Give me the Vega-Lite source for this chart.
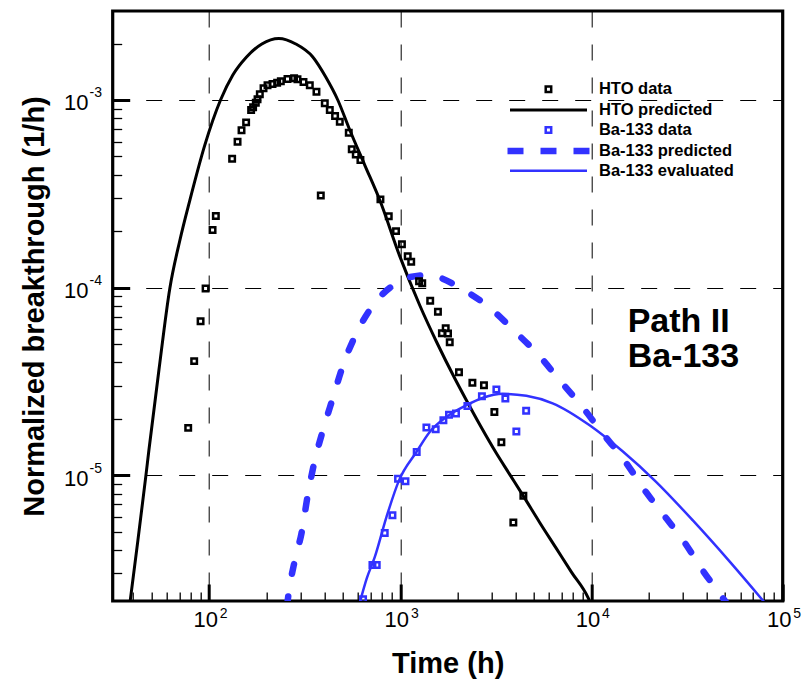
{
  "$schema": "https://vega.github.io/schema/vega-lite/v6.json",
  "width": 670,
  "height": 590,
  "autosize": {"type": "none"},
  "padding": {"left": 112.7, "top": 11, "right": 20.3, "bottom": 82},
  "background": "white",
  "config": {
    "view": {"stroke": "black", "strokeWidth": 3.2},
    "font": "Liberation Sans",
    "legend": {"orient": "none", "title": null, "padding": 0, "labelFont": "Liberation Sans", "labelFontSize": 16.5, "labelFontWeight": "bold", "labelColor": "black", "labelLimit": 300, "symbolOffset": 0}
  },
  "data": {"values": [
    {"series": "HTO data", "t": 77.7, "v": 1.79e-5},
    {"series": "HTO data", "t": 83.5, "v": 4.06e-5},
    {"series": "HTO data", "t": 90.2, "v": 6.63e-5},
    {"series": "HTO data", "t": 95.8, "v": 9.9e-5},
    {"series": "HTO data", "t": 104.2, "v": 2.03e-4},
    {"series": "HTO data", "t": 108.4, "v": 2.41e-4},
    {"series": "HTO data", "t": 131.9, "v": 4.86e-4},
    {"series": "HTO data", "t": 140.8, "v": 5.99e-4},
    {"series": "HTO data", "t": 147.7, "v": 6.89e-4},
    {"series": "HTO data", "t": 156.1, "v": 7.6e-4},
    {"series": "HTO data", "t": 165.8, "v": 8.84e-4},
    {"series": "HTO data", "t": 169.8, "v": 9.14e-4},
    {"series": "HTO data", "t": 175.4, "v": 9.67e-4},
    {"series": "HTO data", "t": 179.1, "v": 1.009e-3},
    {"series": "HTO data", "t": 184.1, "v": 1.072e-3},
    {"series": "HTO data", "t": 192.5, "v": 1.154e-3},
    {"series": "HTO data", "t": 202.0, "v": 1.198e-3},
    {"series": "HTO data", "t": 214.5, "v": 1.217e-3},
    {"series": "HTO data", "t": 226.8, "v": 1.237e-3},
    {"series": "HTO data", "t": 237.1, "v": 1.258e-3},
    {"series": "HTO data", "t": 256.9, "v": 1.294e-3},
    {"series": "HTO data", "t": 278.2, "v": 1.305e-3},
    {"series": "HTO data", "t": 289.8, "v": 1.289e-3},
    {"series": "HTO data", "t": 311.5, "v": 1.247e-3},
    {"series": "HTO data", "t": 336.1, "v": 1.198e-3},
    {"series": "HTO data", "t": 364.2, "v": 1.107e-3},
    {"series": "HTO data", "t": 383.7, "v": 3.095e-4},
    {"series": "HTO data", "t": 402.6, "v": 9.6e-4},
    {"series": "HTO data", "t": 427.6, "v": 8.84e-4},
    {"series": "HTO data", "t": 455.7, "v": 8.22e-4},
    {"series": "HTO data", "t": 482.3, "v": 7.66e-4},
    {"series": "HTO data", "t": 537.4, "v": 6.69e-4},
    {"series": "HTO data", "t": 557.1, "v": 5.46e-4},
    {"series": "HTO data", "t": 584.7, "v": 5.13e-4},
    {"series": "HTO data", "t": 618.4, "v": 4.79e-4},
    {"series": "HTO data", "t": 787.0, "v": 2.954e-4},
    {"series": "HTO data", "t": 869.9, "v": 2.405e-4},
    {"series": "HTO data", "t": 949.5, "v": 2.001e-4},
    {"series": "HTO data", "t": 1019.5, "v": 1.702e-4},
    {"series": "HTO data", "t": 1093, "v": 1.472e-4},
    {"series": "HTO data", "t": 1140, "v": 1.373e-4},
    {"series": "HTO data", "t": 1253, "v": 1.083e-4},
    {"series": "HTO data", "t": 1302, "v": 1.057e-4},
    {"series": "HTO data", "t": 1433, "v": 8.52e-5},
    {"series": "HTO data", "t": 1573, "v": 7.45e-5},
    {"series": "HTO data", "t": 1650, "v": 5.72e-5},
    {"series": "HTO data", "t": 1727, "v": 6.08e-5},
    {"series": "HTO data", "t": 1776, "v": 5.7e-5},
    {"series": "HTO data", "t": 1813, "v": 5.12e-5},
    {"series": "HTO data", "t": 2027, "v": 3.54e-5},
    {"series": "HTO data", "t": 2382, "v": 3.11e-5},
    {"series": "HTO data", "t": 2738, "v": 3.02e-5},
    {"series": "HTO data", "t": 3104, "v": 2.176e-5},
    {"series": "HTO data", "t": 3377, "v": 1.5e-5},
    {"series": "HTO data", "t": 3901, "v": 5.61e-6},
    {"series": "HTO data", "t": 4401, "v": 7.79e-6},
    {"series": "Ba-133 data", "t": 638.3, "v": 2.19e-6},
    {"series": "Ba-133 data", "t": 714.8, "v": 3.33e-6},
    {"series": "Ba-133 data", "t": 752.6, "v": 3.33e-6},
    {"series": "Ba-133 data", "t": 828.7, "v": 4.93e-6},
    {"series": "Ba-133 data", "t": 909.4, "v": 6.12e-6},
    {"series": "Ba-133 data", "t": 972.7, "v": 9.6e-6},
    {"series": "Ba-133 data", "t": 1064, "v": 9.29e-6},
    {"series": "Ba-133 data", "t": 1218, "v": 1.331e-5},
    {"series": "Ba-133 data", "t": 1369, "v": 1.796e-5},
    {"series": "Ba-133 data", "t": 1531, "v": 1.759e-5},
    {"series": "Ba-133 data", "t": 1680, "v": 1.965e-5},
    {"series": "Ba-133 data", "t": 1797, "v": 2.102e-5},
    {"series": "Ba-133 data", "t": 1955, "v": 2.133e-5},
    {"series": "Ba-133 data", "t": 2243, "v": 2.339e-5},
    {"series": "Ba-133 data", "t": 2671, "v": 2.638e-5},
    {"series": "Ba-133 data", "t": 3180, "v": 2.868e-5},
    {"series": "Ba-133 data", "t": 3543, "v": 2.568e-5},
    {"series": "Ba-133 data", "t": 4045, "v": 1.71e-5},
    {"series": "Ba-133 data", "t": 4551, "v": 2.208e-5},
    {"series": "HTO predicted", "t": 38.5, "v": 2.08e-6},
    {"series": "HTO predicted", "t": 42.4, "v": 4.5e-6},
    {"series": "HTO predicted", "t": 46.7, "v": 1.0e-5},
    {"series": "HTO predicted", "t": 48.4, "v": 1.36e-5},
    {"series": "HTO predicted", "t": 54.6, "v": 3.63e-5},
    {"series": "HTO predicted", "t": 62.3, "v": 9.94e-5},
    {"series": "HTO predicted", "t": 70.3, "v": 1.79e-4},
    {"series": "HTO predicted", "t": 79.3, "v": 2.93e-4},
    {"series": "HTO predicted", "t": 94.9, "v": 5.75e-4},
    {"series": "HTO predicted", "t": 114.7, "v": 1.0e-3},
    {"series": "HTO predicted", "t": 133.0, "v": 1.359e-3},
    {"series": "HTO predicted", "t": 156.9, "v": 1.696e-3},
    {"series": "HTO predicted", "t": 188.6, "v": 1.989e-3},
    {"series": "HTO predicted", "t": 231.4, "v": 2.128e-3},
    {"series": "HTO predicted", "t": 283.9, "v": 1.989e-3},
    {"series": "HTO predicted", "t": 348.5, "v": 1.696e-3},
    {"series": "HTO predicted", "t": 407.4, "v": 1.326e-3},
    {"series": "HTO predicted", "t": 470.9, "v": 1.0e-3},
    {"series": "HTO predicted", "t": 543.9, "v": 6.92e-4},
    {"series": "HTO predicted", "t": 651.5, "v": 4.5e-4},
    {"series": "HTO predicted", "t": 780.4, "v": 2.93e-4},
    {"series": "HTO predicted", "t": 992.9, "v": 1.472e-4},
    {"series": "HTO predicted", "t": 1263, "v": 8.06e-5},
    {"series": "HTO predicted", "t": 1550, "v": 5.12e-5},
    {"series": "HTO predicted", "t": 1925, "v": 3.29e-5},
    {"series": "HTO predicted", "t": 2216, "v": 2.512e-5},
    {"series": "HTO predicted", "t": 2632, "v": 1.825e-5},
    {"series": "HTO predicted", "t": 3180, "v": 1.31e-5},
    {"series": "HTO predicted", "t": 3732, "v": 1.012e-5},
    {"series": "HTO predicted", "t": 4379, "v": 7.82e-6},
    {"series": "HTO predicted", "t": 5355, "v": 5.61e-6},
    {"series": "HTO predicted", "t": 6493, "v": 4.13e-6},
    {"series": "HTO predicted", "t": 7870, "v": 3.04e-6},
    {"series": "HTO predicted", "t": 9577, "v": 2.236e-6},
    {"series": "HTO predicted", "t": 10050, "v": 2.0e-6},
    {"series": "Ba-133 predicted", "t": 255.4, "v": 2.0e-6},
    {"series": "Ba-133 predicted", "t": 258.8, "v": 2.236e-6},
    {"series": "Ba-133 predicted", "t": 280.5, "v": 3.52e-6},
    {"series": "Ba-133 predicted", "t": 304.1, "v": 4.91e-6},
    {"series": "Ba-133 predicted", "t": 329.2, "v": 8.02e-6},
    {"series": "Ba-133 predicted", "t": 356.9, "v": 1.202e-5},
    {"series": "Ba-133 predicted", "t": 386.9, "v": 1.634e-5},
    {"series": "Ba-133 predicted", "t": 444.8, "v": 2.606e-5},
    {"series": "Ba-133 predicted", "t": 501.7, "v": 3.86e-5},
    {"series": "Ba-133 predicted", "t": 589.6, "v": 5.72e-5},
    {"series": "Ba-133 predicted", "t": 720.0, "v": 8.06e-5},
    {"series": "Ba-133 predicted", "t": 954.1, "v": 1.057e-4},
    {"series": "Ba-133 predicted", "t": 1120, "v": 1.138e-4},
    {"series": "Ba-133 predicted", "t": 1369, "v": 1.166e-4},
    {"series": "Ba-133 predicted", "t": 1607, "v": 1.131e-4},
    {"series": "Ba-133 predicted", "t": 2044, "v": 1.0e-4},
    {"series": "Ba-133 predicted", "t": 2933, "v": 7.82e-5},
    {"series": "Ba-133 predicted", "t": 3963, "v": 5.86e-5},
    {"series": "Ba-133 predicted", "t": 5355, "v": 4.31e-5},
    {"series": "Ba-133 predicted", "t": 6814, "v": 3.21e-5},
    {"series": "Ba-133 predicted", "t": 8985, "v": 2.305e-5},
    {"series": "Ba-133 predicted", "t": 11430, "v": 1.675e-5},
    {"series": "Ba-133 predicted", "t": 14720, "v": 1.217e-5},
    {"series": "Ba-133 predicted", "t": 19340, "v": 8.11e-6},
    {"series": "Ba-133 predicted", "t": 24600, "v": 5.9e-6},
    {"series": "Ba-133 predicted", "t": 30670, "v": 4.39e-6},
    {"series": "Ba-133 predicted", "t": 37860, "v": 3.15e-6},
    {"series": "Ba-133 predicted", "t": 46730, "v": 2.35e-6},
    {"series": "Ba-133 predicted", "t": 52400, "v": 2.0e-6},
    {"series": "Ba-133 evaluated", "t": 606.1, "v": 2.0e-6},
    {"series": "Ba-133 evaluated", "t": 667.4, "v": 2.823e-6},
    {"series": "Ba-133 evaluated", "t": 734.7, "v": 3.665e-6},
    {"series": "Ba-133 evaluated", "t": 845.9, "v": 5.99e-6},
    {"series": "Ba-133 evaluated", "t": 984.4, "v": 9.4e-6},
    {"series": "Ba-133 evaluated", "t": 1214, "v": 1.331e-5},
    {"series": "Ba-133 evaluated", "t": 1425, "v": 1.702e-5},
    {"series": "Ba-133 evaluated", "t": 1742, "v": 2.046e-5},
    {"series": "Ba-133 evaluated", "t": 2216, "v": 2.362e-5},
    {"series": "Ba-133 evaluated", "t": 2706, "v": 2.59e-5},
    {"series": "Ba-133 evaluated", "t": 3430, "v": 2.72e-5},
    {"series": "Ba-133 evaluated", "t": 4562, "v": 2.655e-5},
    {"series": "Ba-133 evaluated", "t": 6262, "v": 2.42e-5},
    {"series": "Ba-133 evaluated", "t": 9775, "v": 1.848e-5},
    {"series": "Ba-133 evaluated", "t": 14540, "v": 1.343e-5},
    {"series": "Ba-133 evaluated", "t": 21630, "v": 9.29e-6},
    {"series": "Ba-133 evaluated", "t": 33890, "v": 5.75e-6},
    {"series": "Ba-133 evaluated", "t": 52710, "v": 3.48e-6},
    {"series": "Ba-133 evaluated", "t": 77200, "v": 2.208e-6},
    {"series": "Ba-133 evaluated", "t": 83780, "v": 2.0e-6}
  ]},
  "resolve": {
    "scale": {"x": "shared", "y": "shared", "color": "independent"},
    "axis": {"x": "independent", "y": "independent"},
    "legend": {"color": "independent"}
  },
  "layer": [
    {
      "transform": [{"filter": "datum.series == 'HTO predicted'"}],
      "mark": {"type": "line", "strokeWidth": 3, "interpolate": "monotone", "clip": true},
      "encoding": {
        "x": {"field": "t", "type": "quantitative",
          "scale": {"type": "log", "domain": [31.3, 100000], "nice": false, "zero": false},
          "axis": {"orient": "bottom", "values": [100, 1000, 10000, 100000],
            "grid": true, "gridDash": [16, 17], "gridColor": "black", "gridWidth": 1, "gridOpacity": 1,
            "domain": false, "ticks": true, "tickSize": -17, "tickWidth": 3, "tickColor": "black",
            "labelExpr": "'10'", "labelFont": "Liberation Sans", "labelFontSize": 22, "labelColor": "black",
            "labelPadding": 25.7, "labelOffset": -4, "labelBaseline": "top", "labelAlign": "center",
            "labelFlush": false, "labelOverlap": false,
            "title": "Time (h)", "titleFont": "Liberation Sans", "titleFontSize": 29, "titleFontWeight": "bold",
            "titleColor": "black", "titleX": 335, "titleY": 71, "titleBaseline": "alphabetic", "titleAlign": "center"}},
        "y": {"field": "v", "type": "quantitative",
          "scale": {"type": "log", "domain": [2.14e-6, 2.98e-3], "nice": false, "zero": false},
          "axis": {"orient": "left", "values": [0.001, 0.0001, 0.00001],
            "grid": true, "gridDash": [16, 17], "gridColor": "black", "gridWidth": 1, "gridOpacity": 1,
            "domain": false, "ticks": true, "tickSize": -17, "tickWidth": 3, "tickColor": "black",
            "labelExpr": "'10'", "labelFont": "Liberation Sans", "labelFontSize": 22, "labelColor": "black",
            "labelPadding": 41.7, "labelOffset": 3, "labelBaseline": "middle", "labelAlign": "right",
            "labelFlush": false, "labelOverlap": false,
            "title": "Normalized breakthrough (1/h)", "titleFont": "Liberation Sans", "titleFontSize": 29,
            "titleFontWeight": "bold", "titleColor": "black", "titleAngle": -90,
            "titleX": -69, "titleY": 295, "titleBaseline": "alphabetic", "titleAlign": "center"}},
        "color": {"field": "series", "type": "nominal",
          "scale": {"domain": ["HTO predicted"], "range": ["black"]},
          "legend": {"legendX": 395.8, "legendY": 59, "symbolType": "stroke", "symbolSize": 5929, "symbolStrokeWidth": 3, "labelOffset": 10.5}}
      }
    },
    {
      "transform": [{"filter": "datum.series == 'Ba-133 predicted'"}],
      "mark": {"type": "line", "strokeWidth": 6.5, "strokeDash": [10, 23], "strokeCap": "round", "interpolate": "monotone", "clip": true},
      "encoding": {
        "x": {"field": "t", "type": "quantitative",
          "axis": {"orient": "bottom",
            "values": [40, 50, 60, 70, 80, 90, 200, 300, 400, 500, 600, 700, 800, 900, 2000, 3000, 4000, 5000, 6000, 7000, 8000, 9000, 20000, 30000, 40000, 50000, 60000, 70000, 80000, 90000],
            "grid": false, "domain": false, "labels": false, "ticks": true, "tickSize": -9, "tickWidth": 1.3, "tickColor": "black", "title": null}},
        "y": {"field": "v", "type": "quantitative",
          "axis": {"orient": "left",
            "values": [3e-6, 4e-6, 5e-6, 6e-6, 7e-6, 8e-6, 9e-6, 2e-5, 3e-5, 4e-5, 5e-5, 6e-5, 7e-5, 8e-5, 9e-5, 2e-4, 3e-4, 4e-4, 5e-4, 6e-4, 7e-4, 8e-4, 9e-4, 2e-3],
            "grid": false, "domain": false, "labels": false, "ticks": true, "tickSize": -9, "tickWidth": 1.3, "tickColor": "black", "title": null}},
        "color": {"field": "series", "type": "nominal",
          "scale": {"domain": ["Ba-133 predicted"], "range": ["#3232ff"]},
          "legend": {"legendX": 391.3, "legendY": 95.5, "symbolType": "stroke", "symbolSize": 6724, "symbolStrokeWidth": 6.5, "symbolDash": [16, 17], "labelOffset": 6}}
      }
    },
    {
      "transform": [{"filter": "datum.series == 'Ba-133 evaluated'"}],
      "mark": {"type": "line", "strokeWidth": 2.5, "interpolate": "monotone", "clip": true},
      "encoding": {
        "x": {"field": "t", "type": "quantitative",
          "axis": {"orient": "bottom", "values": [100, 1000, 10000, 100000],
            "grid": false, "domain": false, "ticks": false, "title": null,
            "labelExpr": "datum.value == 100 ? '2' : datum.value == 1000 ? '3' : datum.value == 10000 ? '4' : '5'",
            "labelFont": "Liberation Sans", "labelFontSize": 14, "labelColor": "black",
            "labelPadding": 5, "labelOffset": 14, "labelBaseline": "top", "labelAlign": "center",
            "labelFlush": false, "labelOverlap": false}},
        "y": {"field": "v", "type": "quantitative",
          "axis": {"orient": "left", "values": [0.001, 0.0001, 0.00001],
            "grid": false, "domain": false, "ticks": false, "title": null,
            "labelExpr": "datum.value > 0.0005 ? '-3' : datum.value > 0.00005 ? '-4' : '-5'",
            "labelFont": "Liberation Sans", "labelFontSize": 14, "labelColor": "black",
            "labelPadding": 23.7, "labelOffset": -7, "labelBaseline": "middle", "labelAlign": "left",
            "labelFlush": false, "labelOverlap": false}},
        "color": {"field": "series", "type": "nominal",
          "scale": {"domain": ["Ba-133 evaluated"], "range": ["#3232ff"]},
          "legend": {"legendX": 395.8, "legendY": 119.7, "symbolType": "stroke", "symbolSize": 5929, "symbolStrokeWidth": 2.5, "labelOffset": 10.5}}
      }
    },
    {
      "transform": [{"filter": "datum.series == 'HTO data'"}],
      "mark": {"type": "point", "shape": "square", "filled": false, "size": 30, "strokeWidth": 2.5, "opacity": 1, "clip": true},
      "encoding": {
        "x": {"field": "t", "type": "quantitative", "axis": null},
        "y": {"field": "v", "type": "quantitative", "axis": null},
        "color": {"field": "series", "type": "nominal",
          "scale": {"domain": ["HTO data"], "range": ["black"]},
          "legend": {"legendX": 427.5, "legendY": 70.05, "symbolType": "square", "symbolSize": 30, "symbolStrokeWidth": 2.5, "labelOffset": 42.25}}
      }
    },
    {
      "transform": [{"filter": "datum.series == 'Ba-133 data'"}],
      "mark": {"type": "point", "shape": "square", "filled": false, "size": 30, "strokeWidth": 2.5, "opacity": 1, "clip": true},
      "encoding": {
        "x": {"field": "t", "type": "quantitative", "axis": null},
        "y": {"field": "v", "type": "quantitative", "axis": null},
        "color": {"field": "series", "type": "nominal",
          "scale": {"domain": ["Ba-133 data"], "range": ["#3232ff"]},
          "legend": {"legendX": 427.5, "legendY": 110.75, "symbolType": "square", "symbolSize": 30, "symbolStrokeWidth": 2.5, "labelOffset": 42.25}}
      }
    },
    {
      "data": {"values": [{}]},
      "mark": {"type": "text", "align": "left", "baseline": "alphabetic", "font": "Liberation Sans", "fontSize": 34, "fontWeight": "bold", "lineHeight": 35, "color": "black"},
      "encoding": {
        "x": {"datum": 15450, "type": "quantitative", "axis": null},
        "y": {"datum": 5.81e-5, "type": "quantitative", "axis": null},
        "text": {"value": ["Path II", "Ba-133"]}
      }
    }
  ]
}
